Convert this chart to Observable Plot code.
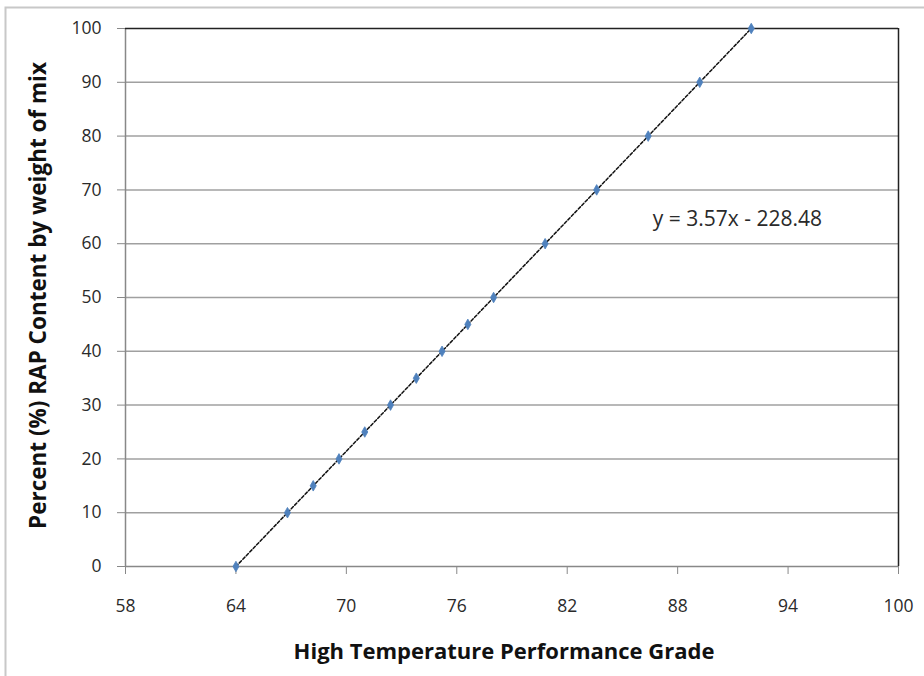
<!DOCTYPE html>
<html>
<head>
<meta charset="utf-8">
<script src="https://cdn.jsdelivr.net/npm/d3@7"></script>
<script src="https://cdn.jsdelivr.net/npm/@observablehq/plot@0.6"></script>
<style>
  html, body { margin: 0; padding: 0; background: #fff; }
  #chart svg { display: block; }
</style>
</head>
<body>
<div id="chart"></div>
<script>
// Data
const pgGrade = [64, 66.8, 68.2, 69.6, 71, 72.4, 73.8, 75.2, 76.6, 78, 80.8, 83.6, 86.4, 89.2, 92];
const rapPercent = [0, 10, 15, 20, 25, 30, 35, 40, 45, 50, 60, 70, 80, 90, 100];
const xTicks = [58, 64, 70, 76, 82, 88, 94, 100];
const yTicks = [0, 10, 20, 30, 40, 50, 60, 70, 80, 90, 100];
const equationText = "y = 3.57x - 228.48";
const equationPos = [{x: 91.25, y: 64.5}];
const xTitle = "High Temperature Performance Grade";
const yTitle = "Percent (%) RAP Content by weight of mix";

const points = pgGrade.map((x, i) => ({x, y: rapPercent[i]}));
const font = "'Open Sans', sans-serif";

const chart = Plot.plot({
  width: 924,
  height: 676,
  marginLeft: 125,
  marginRight: 26,
  marginTop: 28,
  marginBottom: 110,
  style: {fontFamily: font, fontSize: "17px", color: "#222", background: "#fff"},
  x: {domain: [58, 100]},
  y: {domain: [0, 100]},
  marks: [
    Plot.ruleY(yTicks.filter(d => d > 0 && d < 100), {stroke: "#a0a0a0", strokeWidth: 1.5}),
    Plot.axisY({ticks: yTicks, tickSize: 8, tickPadding: 16, label: null, stroke: "#888", fontSize: 17.5, fill: "#2a2a2a"}),
    Plot.axisX({ticks: xTicks, tickSize: 8, tickPadding: 25, label: null, stroke: "#888", fontSize: 17.5, fill: "#2a2a2a"}),
    Plot.ruleX([58], {stroke: "#888", strokeWidth: 1.5}),
    Plot.ruleY([0], {stroke: "#888", strokeWidth: 1.5}),
    Plot.ruleY([100], {stroke: "#222", strokeWidth: 1.5}),
    Plot.ruleX([100], {stroke: "#222", strokeWidth: 1.5}),
    Plot.line(points, {x: "x", y: "y", stroke: "#111", strokeWidth: 1.5, strokeDasharray: "3,2"}),
    Plot.dot(points, {x: "x", y: "y", symbol: "diamond", fill: "#4f81bd", stroke: "#4f81bd", strokeWidth: 0.8, r: 3.2}),
    Plot.text(equationPos, {x: "x", y: "y", text: () => equationText, fontSize: 21, fill: "#2a2a2a", textAnchor: "middle"}),
    Plot.text([xTitle], {frameAnchor: "bottom", dx: -8, dy: 92, fontSize: 22, fontWeight: "bold", fill: "#111"}),
    Plot.text([yTitle], {frameAnchor: "left", dx: -87, dy: -2, textAnchor: "middle", rotate: -90, fontSize: 22.5, fontWeight: "bold", fill: "#111"})
  ]
});

document.getElementById("chart").appendChild(chart);
d3.select(chart).append("rect")
  .attr("x", 5.5).attr("y", 7.5).attr("width", 930).attr("height", 700)
  .attr("fill", "none").attr("stroke", "#c8c8c8").attr("stroke-width", 2);
</script>
</body>
</html>
